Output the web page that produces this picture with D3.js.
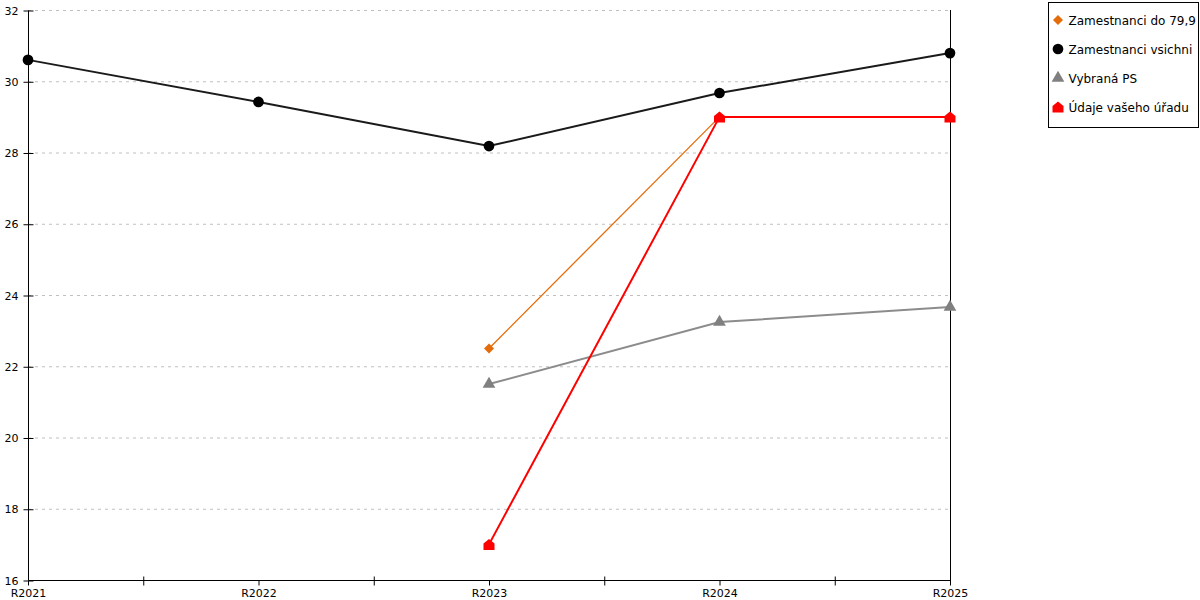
<!DOCTYPE html>
<html>
<head>
<meta charset="utf-8">
<script src="https://cdn.jsdelivr.net/npm/d3@7"></script>
<style>
  body { margin: 0; background: #fff; }
  text { font-family: "DejaVu Sans", Verdana, sans-serif; fill: #000; }
  .grid line { stroke: #c0c0c0; stroke-dasharray: 3,4; }
</style>
</head>
<body>
<div id="chart"></div>
<script>
// data
var categories = ["R2021", "R2022", "R2023", "R2024", "R2025"];
var yTicks = [16, 18, 20, 22, 24, 26, 28, 30, 32];

var zamDo799   = [null, null, 22.5, 29.0, null];
var zamVsichni = [30.6, 29.42, 28.18, 29.67, 30.79];
var vybranaPS  = [null, null, 21.5, 23.24, 23.66];
var udajeUradu = [null, null, 17.0, 29.0, 29.0];

var seriesNames = ["Zamestnanci do 79,9", "Zamestnanci vsichni", "Vybraná PS", "Údaje vašeho úřadu"];

// drawing
var width = 1200, height = 600;
var m = { left: 28, right: 250, top: 10, bottom: 20 };

var svg = d3.select("#chart").append("svg")
    .attr("width", width)
    .attr("height", height);

var x = d3.scalePoint()
    .domain(categories)
    .range([m.left, width - m.right]);

var y = d3.scaleLinear()
    .domain([16, 32])
    .range([height - m.bottom, m.top]);

// grid
svg.append("g").attr("class", "grid")
  .selectAll("line")
  .data(yTicks.slice(1))
  .enter().append("line")
    .attr("x1", m.left)
    .attr("x2", width - m.right)
    .attr("y1", function (d) { return y(d) + 0.5; })
    .attr("y2", function (d) { return y(d) + 0.5; });

// right border
svg.append("line")
    .attr("x1", width - m.right + 0.5).attr("x2", width - m.right + 0.5)
    .attr("y1", m.top).attr("y2", height - m.bottom + 5)
    .attr("stroke", "#000");

// y axis
var yAxis = d3.axisLeft(y).tickValues(yTicks).tickSize(5).tickFormat(d3.format("d"));
var gy = svg.append("g")
    .attr("transform", "translate(" + (m.left + 0.5) + ",0.5)")
    .call(yAxis);
gy.select(".domain").attr("d", "M0," + m.top + "V" + (height - m.bottom));
gy.selectAll(".tick line").attr("x1", -5).attr("x2", 5);
gy.selectAll("text").attr("x", -10).style("font-size", "11px").style("font-family", "DejaVu Sans");

// x axis with major and in-between ticks
var step = x.step();
var minor = categories.slice(0, -1).map(function (c) { return x(c) + step / 2; });

var gx = svg.append("g")
    .attr("transform", "translate(0.5," + (height - m.bottom + 0.5) + ")");
gx.append("line")
    .attr("x1", m.left).attr("x2", width - m.right)
    .attr("stroke", "#000");
gx.selectAll(".minor")
  .data(minor)
  .enter().append("line")
    .attr("x1", function (d) { return d; })
    .attr("x2", function (d) { return d; })
    .attr("y1", -4).attr("y2", 5)
    .attr("stroke", "#000");
gx.selectAll(".major")
  .data(categories)
  .enter().append("line")
    .attr("x1", function (d) { return x(d); })
    .attr("x2", function (d) { return x(d); })
    .attr("y1", 0).attr("y2", 5)
    .attr("stroke", "#000");
gx.selectAll("text")
  .data(categories)
  .enter().append("text")
    .attr("x", function (d) { return x(d); })
    .attr("y", 16)
    .attr("text-anchor", "middle")
    .style("font-size", "11px")
    .text(function (d) { return d; });

// marker shapes
function diamondPath(s) {
    return "M0," + (-s) + "L" + s + ",0L0," + s + "L" + (-s) + ",0Z";
}
function housePath(s) {
    return "M" + (-s) + "," + s + "L" + (-s) + ",-1L0," + (-s) + "L" + s + ",-1L" + s + "," + s + "Z";
}
var circlePath = d3.symbol().type(d3.symbolCircle).size(90)();
var trianglePath = d3.symbol().type(d3.symbolTriangle).size(70)();

var series = [
    { name: seriesNames[0], values: zamDo799,   color: "#e46c0a", width: 1.3, marker: diamondPath(5) },
    { name: seriesNames[1], values: zamVsichni, color: "#1a1a1a", width: 2,   marker: circlePath, fill: "#000" },
    { name: seriesNames[2], values: vybranaPS,  color: "#8c8c8c", width: 2,   marker: trianglePath, fill: "#808080" },
    { name: seriesNames[3], values: udajeUradu, color: "#ff0000", width: 2,   marker: housePath(5.5) }
];

var line = d3.line()
    .defined(function (d) { return d.v !== null; })
    .x(function (d) { return x(d.c); })
    .y(function (d) { return y(d.v); });

var drawOrder = [1, 0, 2, 3];
drawOrder.forEach(function (i) {
    var s = series[i];
    var pts = categories.map(function (c, k) { return { c: c, v: s.values[k] }; });
    svg.append("path")
        .datum(pts)
        .attr("fill", "none")
        .attr("stroke", s.color)
        .attr("stroke-width", s.width)
        .attr("d", line);
    svg.selectAll(".m" + i)
      .data(pts.filter(function (d) { return d.v !== null; }))
      .enter().append("path")
        .attr("transform", function (d) { return "translate(" + x(d.c) + "," + y(d.v) + ")"; })
        .attr("d", s.marker)
        .attr("fill", s.fill || s.color);
});

// legend
var lg = svg.append("g").attr("transform", "translate(1048.5,2.5)");
lg.append("rect")
    .attr("width", 150).attr("height", 125)
    .attr("fill", "#fff").attr("stroke", "#000");
series.forEach(function (s, i) {
    var yy = 18 + i * 29;
    lg.append("path")
        .attr("transform", "translate(9.5," + (yy - 0.5) + ")")
        .attr("d", s.marker)
        .attr("fill", s.fill || s.color);
    lg.append("text")
        .attr("x", 20)
        .attr("y", yy + 4)
        .style("font-size", "12px")
        .text(s.name);
});
</script>
</body>
</html>
